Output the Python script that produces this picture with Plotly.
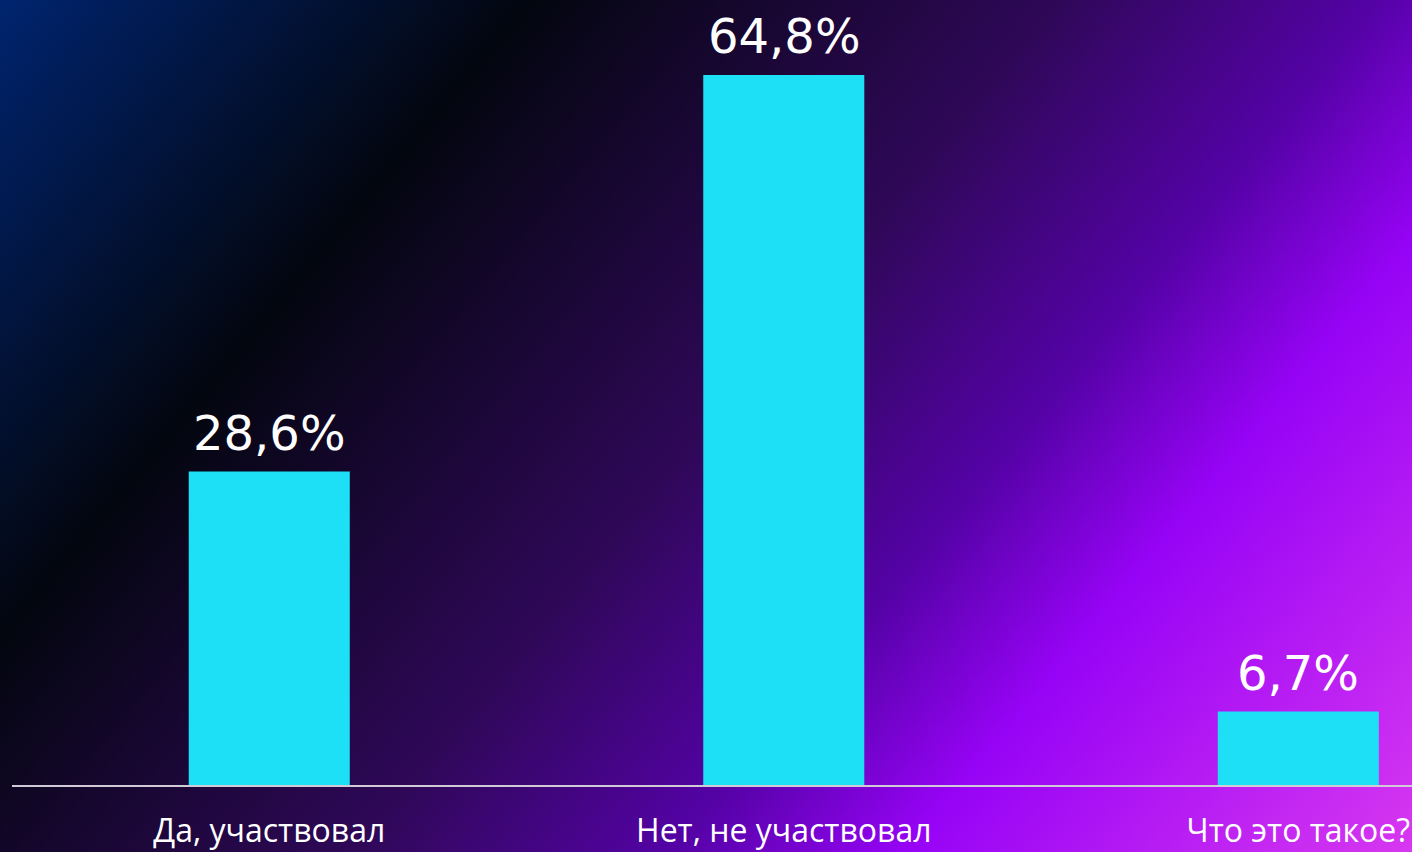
import base64
import plotly.graph_objects as go

categories = ["Да, участвовал", "Нет, не участвовал", "Что это такое?"]
values = [28.6, 64.8, 6.7]
value_labels = ["28,6%", "64,8%", "6,7%"]

W, H = 1412, 852

# background diagonal gradient
stops = [
    (0.00, "#00246f"),
    (0.25, "#03060f"),
    (0.50, "#2f0858"),
    (0.65, "#5402a6"),
    (0.76, "#9703f6"),
    (1.00, "#d838f0"),
]
stop_xml = "".join(f'<stop offset="{o}" stop-color="{c}"/>' for o, c in stops)
svg = (
    f'<svg xmlns="http://www.w3.org/2000/svg" width="{W}" height="{H}" viewBox="0 0 {W} {H}" preserveAspectRatio="none">'
    f'<defs><linearGradient id="g" gradientUnits="userSpaceOnUse" x1="0" y1="0" x2="1257" y2="1044">{stop_xml}</linearGradient></defs>'
    f'<rect x="0" y="0" width="{W}" height="{H}" fill="url(#g)"/></svg>'
)
bg_src = "data:image/svg+xml;base64," + base64.b64encode(svg.encode()).decode()

fig = go.Figure()
fig.add_trace(go.Bar(
    x=list(range(len(categories))),
    y=values,
    width=0.313,
    marker=dict(color="#1ddff5", line=dict(width=0)),
    hoverinfo="skip",
))

for i, (v, lab) in enumerate(zip(values, value_labels)):
    fig.add_annotation(
        x=i, y=v, text=lab, showarrow=False, yanchor="bottom", yshift=9,
        font=dict(family="DejaVu Sans", size=48, color="#ffffff"),
    )

fig.add_layout_image(dict(
    source=bg_src, xref="paper", yref="paper", x=0, y=1, sizex=1, sizey=1,
    sizing="stretch", xanchor="left", yanchor="top", layer="below",
))

fig.update_layout(
    width=W, height=H,
    margin=dict(l=0, r=0, t=0, b=0),
    paper_bgcolor="#1a0840",
    plot_bgcolor="rgba(0,0,0,0)",
    showlegend=False,
    xaxis=dict(
        domain=[12 / W, 1],
        range=[-0.5, 2.221],
        tickmode="array",
        tickvals=list(range(len(categories))),
        ticktext=categories,
        tickfont=dict(family="Open Sans", size=32, color="#ffffff"),
        ticks="",
        showgrid=False,
        zeroline=False,
        showline=True,
        linecolor="#cfcad6",
        linewidth=2,
        ticklabelstandoff=17,
    ),
    yaxis=dict(
        domain=[(H - 785) / H, 1],
        range=[0, 71.64],
        visible=False,
        showgrid=False,
        zeroline=False,
    ),
)

fig.write_html(
    "out.html",
    config={"displayModeBar": False},
    post_script="document.body.style.margin='0';document.body.style.padding='0';document.body.style.overflow='hidden';",
)
